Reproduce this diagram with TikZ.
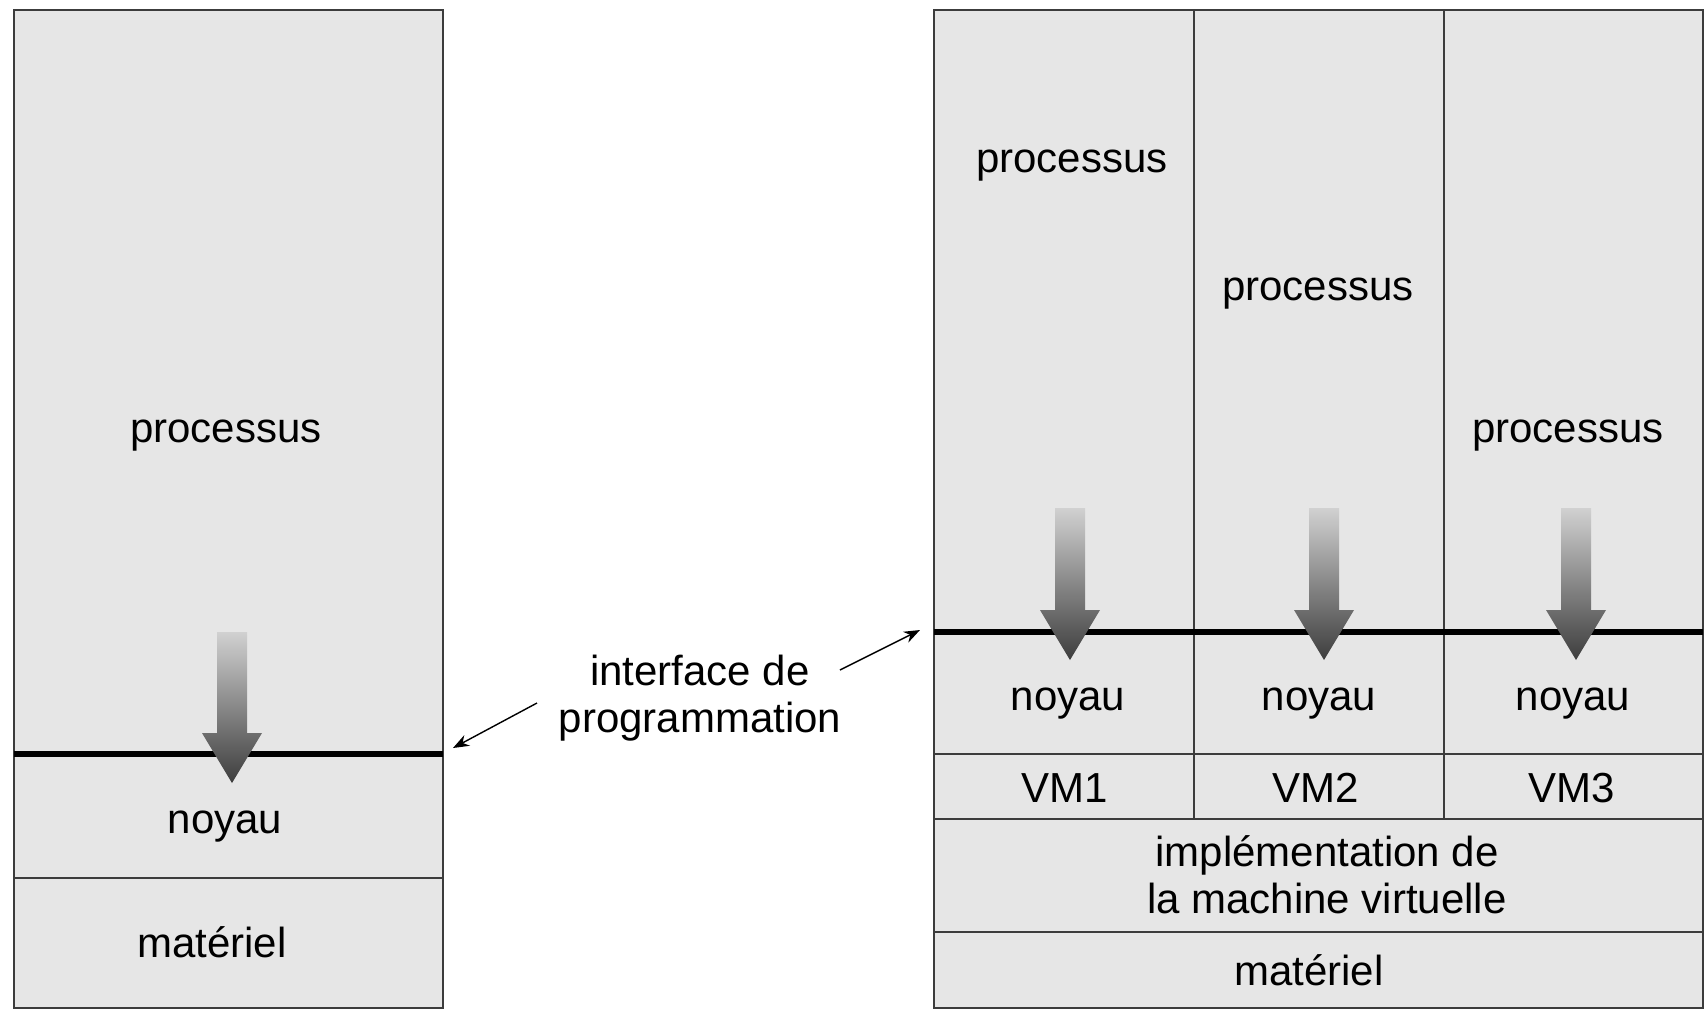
\documentclass[tikz,border=0pt]{standalone}
\usepackage{fontspec}
\setmainfont{Liberation Sans}
\usetikzlibrary{arrows.meta}
\definecolor{cellfill}{HTML}{E6E6E6}
\definecolor{edge}{HTML}{3C3C3C}
\newcommand\gradarrow[3]{% center x, top y, tip y
  \shade[garrow] (#1-15,#2) -- (#1+15,#2) -- (#1+15,#3-50) -- (#1+30,#3-50) -- (#1,#3) -- (#1-30,#3-50) -- (#1-15,#3-50) -- cycle;}
\begin{document}
\begin{tikzpicture}[x=0.5pt,y=-0.5pt,
  cell/.style={fill=cellfill, draw=edge, line width=1.2pt},
  sep/.style={draw=edge, line width=1.2pt},
  ifline/.style={draw=black, line width=2.6pt},
  lbl/.style={font=\fontsize{21}{23.5}\selectfont, inner sep=0pt, anchor=base, align=center},
  conn/.style={draw=black, line width=0.7pt, -{Stealth[length=8pt,width=6pt]}},
  garrow/.style={top color=black!18, bottom color=black!76, draw=none}]
\useasboundingbox (0,0) rectangle (1705,1009);
% left stack
\draw[cell] (14,10) rectangle (443,1008);
\draw[sep] (14,878) -- (443,878);
\draw[ifline] (14,754) -- (443,754);
% right stack
\draw[cell] (934,10) rectangle (1703,1008);
\draw[sep] (1194,10) -- (1194,819);
\draw[sep] (1444,10) -- (1444,819);
\draw[sep] (934,754) -- (1703,754);
\draw[sep] (934,819) -- (1703,819);
\draw[sep] (934,932) -- (1703,932);
\draw[ifline] (934,632) -- (1703,632);
% gradient arrows
\gradarrow{232}{632}{783}
\gradarrow{1070}{508}{660}
\gradarrow{1324}{508}{660}
\gradarrow{1576}{508}{660}
% labels
\node[lbl] (lproc) at (226,442) {processus};
\node[lbl] (lnoy) at (225,833) {noyau};
\node[lbl] (lmat) at (212,957) {matériel};
\node[lbl] (proc1) at (1072,172) {processus};
\node[lbl] (proc2) at (1318,300) {processus};
\node[lbl] (proc3) at (1568,442) {processus};
\node[lbl] (noy1) at (1068,710) {noyau};
\node[lbl] (noy2) at (1319,710) {noyau};
\node[lbl] (noy3) at (1573,710) {noyau};
\node[lbl] (vm1) at (1065,802) {VM1};
\node[lbl] (vm2) at (1316,802) {VM2};
\node[lbl] (vm3) at (1572,802) {VM3};
\node[lbl] (impl) at (1327,913) {implémentation de\\la machine virtuelle};
\node[lbl] (rmat) at (1309,985) {matériel};
\node[lbl] (iface) at (700,732) {interface de\\programmation};
% connectors
\coordinate (ls) at (537,703);
\coordinate (le) at (453,748);
\coordinate (rs) at (840,670);
\coordinate (re) at (920,630);
\draw[conn] (ls) -- (le);
\draw[conn] (rs) -- (re);
\end{tikzpicture}
\end{document}
